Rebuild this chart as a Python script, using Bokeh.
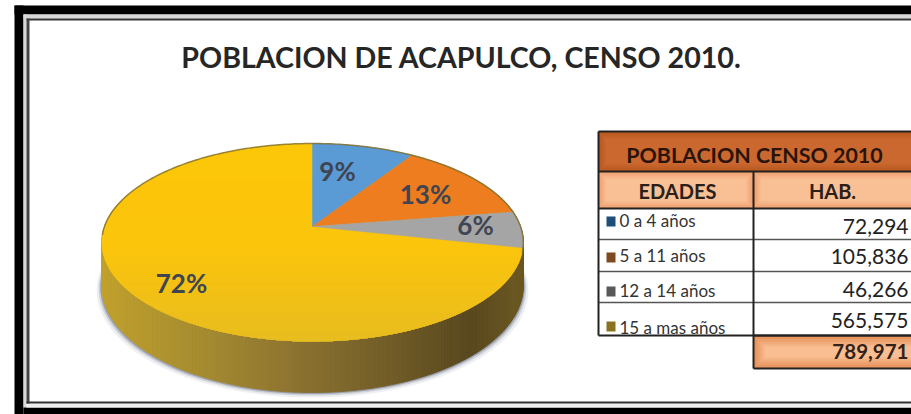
import numpy as np
from bokeh.plotting import figure
from bokeh.core.properties import value
from bokeh.embed import file_html
from bokeh.resources import INLINE

# ---- data
title_text = "POBLACION DE ACAPULCO, CENSO 2010."
table_title = "POBLACION CENSO 2010"
col_heads = ["EDADES", "HAB."]
age_groups = ["0 a 4 años", "5 a 11 años", "12 a 14 años", "15 a mas años"]
population = [72294, 105836, 46266, 565575]
population_total = 789971
pct_labels = ["9%", "13%", "6%", "72%"]
slice_colors = ["#5B9BD5", "#ED7D1E", "#A5A5A5", "#FFC60A"]
swatch_colors = ["#1F4E79", "#7F4A1E", "#595959", "#8A7020"]

W, H = 911, 414
XMAX, YBOT = W, H
p = figure(width=W, height=H, x_range=(0, W), y_range=(H, 0), output_backend="svg",
           toolbar_location=None, min_border=0,
           x_axis_location=None, y_axis_location=None,
           background_fill_color="white", border_fill_color="white", outline_line_color=None)
p.grid.visible = False
FONT = value("Lato")


def rect(x0, y0, x1, y1, color, alpha=1.0):
    p.quad(left=[x0], right=[x1], top=[y0], bottom=[y1], fill_color=color, fill_alpha=alpha, line_color=None)


def hexmix(stops, t):
    pos = [s[0] for s in stops]
    rgb = [[int(s[1][i:i + 2], 16) for i in (1, 3, 5)] for s in stops]
    c = [int(np.interp(t, pos, [r[k] for r in rgb])) for k in range(3)]
    return "#%02x%02x%02x" % tuple(c)


def glow(x0, y0, x1, y1, edge, center, steps=6, inset=1.5, right_open=False):
    for i in range(steps):
        c = hexmix([(0, edge), (steps - 1, center)], i)
        d = i * inset
        rect(x0 + d, y0 + d, x1 - (0 if right_open else d), y1 - d, c)


# ---- page frame
rect(14, 5, XMAX, 14, "black")
rect(14, 5, 23, YBOT, "black")
rect(23, 14, XMAX, 18, "#d8d8d8")
rect(23, 14, 26, 407, "#d8d8d8")
rect(23, 407, XMAX, YBOT, "black")
rect(26, 403, XMAX, 407, "#f0f0f0")
rect(26, 18, XMAX, 20, "#333333")
rect(26, 18, 29, 403, "#444444")
rect(26, 401, XMAX, 403, "#333333")

# ---- title
p.text([461], [56], text=[title_text], text_font=FONT, text_font_style="bold", text_font_size="28.6px",
       text_align="center", text_baseline="middle", text_color="#262626")

# ---- 3D pie (perspective projection of a circle)
CX, CY, R, HT, K = 312, 226, 208, 96.4, 0.1616
CY2, HT2 = 268, 104


def proj(theta, cy=CY, h=HT):
    u, v = np.sin(theta), np.cos(theta)
    d = 1 + K * v
    return CX + R * u / d, cy - h * v / d


# shadow
th = np.linspace(0, 2 * np.pi, 240)
for grow, al in [(5, 0.08), (3, 0.16), (1.5, 0.30)]:
    sx, sy = proj(th, CY2, HT2)
    mx = CX + (sx - CX) * (1 + grow / 210)
    my = sy + grow
    p.patch(mx, my, fill_color="#2a3550", fill_alpha=al, line_color=None)

# side wall
side_stops = [(100, "#C2A22C"), (200, "#A68C30"), (300, "#8C7230"), (400, "#6E5A26"), (470, "#59481E"), (525, "#6E5A22")]
ts = np.radians(np.linspace(70, 290, 221))
xs_p, ys_p, cols = [], [], []
for a, b in zip(ts[:-1], ts[1:]):
    xa, ya = proj(a)
    xb, yb = proj(b)
    xa2, ya2 = proj(a, CY2, HT2)
    xb2, yb2 = proj(b, CY2, HT2)
    xs_p.append([xa, xb, xb2, xa2])
    ys_p.append([ya, yb, yb2, ya2])
    cols.append(hexmix(side_stops, (xa + xb) / 2))
p.patches(xs_p, ys_p, fill_color=cols, line_color=cols, line_width=0.8)

# top surface: disc with a vertical gradient made of thin rows, other slices above it
fx, fy = proj(np.linspace(0, 2 * np.pi, 720))
p.patch(fx, fy, fill_color="#F6C215", line_color=None)
top_stops = [(143, "#FFC808"), (250, "#FCC50C"), (341, "#E6BC22")]
rx, ry = proj(np.linspace(0, np.pi, 360))
lx, ly = proj(np.linspace(np.pi, 2 * np.pi, 360))
o_r = np.argsort(ry)
o_l = np.argsort(ly)
for y in np.arange(143.0, 341.0, 1.0):
    xr = np.interp(y + 0.5, ry[o_r], rx[o_r])
    xl = np.interp(y + 0.5, ly[o_l], lx[o_l])
    rect(xl, y, xr, y + 1.2, hexmix(top_stops, y))

total = float(sum(population))
frac = np.cumsum([0] + population) / total
for i in range(3):
    t = np.linspace(frac[i], frac[i + 1], 60) * 2 * np.pi
    x, y = proj(t)
    p.patch(np.r_[CX, x], np.r_[CY, y], fill_color=slice_colors[i], line_color=slice_colors[i], line_width=0.5)

# rim on the far side of the disc
bx, by = proj(np.radians(np.linspace(-95, 105, 200)))
p.line(bx, by, line_color="#7E6E30", line_width=1.5, line_alpha=0.8)

lab_x = [337, 425, 475, 181]
lab_y = [170, 193, 224, 282]
p.text(lab_x, lab_y, text=pct_labels, text_font=FONT, text_font_style="bold", text_font_size="26px",
       text_align="center", text_baseline="middle", text_color="#404552")

# ---- table
L, M, RR = 598, 753, XMAX
row_edges = [208, 239, 271, 302, 335]
glow(L, 131, RR, 171, "#B8581F", "#CA6830", right_open=True)
glow(L, 171, M, 208, "#F0A070", "#F9C096")
glow(M, 171, RR, 208, "#F0A070", "#F9C096", right_open=True)
glow(M, 335, RR, 368, "#E49058", "#F9BE92", steps=8, inset=1.6, right_open=True)

p.segment([L, L, L, M], [131, 171, 208, 368], [RR, RR, RR, RR], [131, 171, 208, 368], line_color="#222222", line_width=2)
p.segment([L] * 3, row_edges[1:4], [RR] * 3, row_edges[1:4], line_color="#555555", line_width=1.6)
p.segment([L, M], [row_edges[-1]] * 2, [RR, RR], [row_edges[-1]] * 2, line_color="#222222", line_width=2)
p.segment([L, M, M], [131, 171, 335], [L, M, M], [335, 335, 368], line_color="#222222", line_width=2)

p.text([677, 832], [190, 190], text=col_heads, text_font=FONT, text_font_style="bold", text_font_size="20px",
       text_align="center", text_baseline="middle", text_color="#2a2018")
p.text([754], [154], text=[table_title], text_font=FONT, text_font_style="bold", text_font_size="21.4px",
       text_align="center", text_baseline="middle", text_color="#2a1408")

sw_y = [221, 257, 291, 326]
txt_y = [220, 255, 290, 327]
num_y = [226, 256, 289, 320]
for yc, c in zip(sw_y, swatch_colors):
    rect(606, yc - 5, 615, yc + 5, c)
p.text([619] * 4, txt_y, text=age_groups, text_font=FONT, text_font_size="17px",
       text_align="left", text_baseline="middle", text_color="#333333")
p.text([908] * 4, num_y, text=[f"{v:,}" for v in population], text_font=FONT, text_font_size="21px",
       text_align="right", text_baseline="middle", text_color="#222222")
p.text([908], [351], text=[f"{population_total:,}"], text_font=FONT, text_font_style="bold", text_font_size="20.5px",
       text_align="right", text_baseline="middle", text_color="#332218")

open("out.html", "w").write(file_html(p, INLINE))
